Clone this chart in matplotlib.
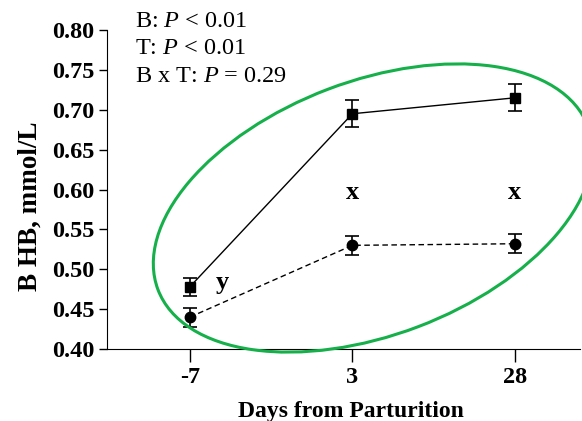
import numpy as np
import matplotlib
matplotlib.use('Agg')
import matplotlib.pyplot as plt
from matplotlib.patches import Ellipse

plt.rcParams['font.family'] = 'Liberation Serif'
plt.rcParams['mathtext.fontset'] = 'custom'
plt.rcParams['mathtext.rm'] = 'Liberation Serif'
plt.rcParams['mathtext.it'] = 'Liberation Serif:italic'

days = ['-7', '3', '28']
sq_mean = [0.478, 0.695, 0.715]
sq_err = [0.011, 0.017, 0.017]
ci_mean = [0.440, 0.530, 0.532]
ci_err = [0.012, 0.012, 0.012]
stats_lines = ['B: $P$ < 0.01', 'T: $P$ < 0.01', 'B x T: $P$ = 0.29']
letters = [('y', 0.2, 0.484), ('x', 1, 0.596), ('x', 2, 0.596)]

fig = plt.figure(figsize=(5.82, 4.21), dpi=100)
ax = fig.add_axes([0.1838, 0.171, 0.8127, 0.7577])

x = np.arange(len(days))
ax.errorbar(x, sq_mean, yerr=sq_err, fmt='s-', color='black', ms=7, lw=1,
            capsize=5, elinewidth=1.2, capthick=1.2)
ax.errorbar(x, ci_mean, yerr=ci_err, fmt='o--', color='black', ms=7.5, lw=1,
            capsize=5, elinewidth=1.2, capthick=1.2, dashes=(4, 2.5))

for s, lx, ly in letters:
    ax.text(lx, ly, s, fontsize=19, fontweight='bold', ha='center', va='center')

ax.set_xlim(-0.51, 2.4)
ax.set_ylim(0.40, 0.80)
ax.set_xticks(x)
ax.set_xticklabels(days)
ax.set_yticks(np.arange(0.40, 0.801, 0.05))
ax.set_yticklabels(['%.2f' % v for v in np.arange(0.40, 0.801, 0.05)])
for lab in ax.get_xticklabels() + ax.get_yticklabels():
    lab.set_fontweight('bold')
    lab.set_fontsize(17.5)
ax.tick_params(axis='y', length=6, width=1, pad=3)
ax.tick_params(axis='x', length=9, width=1, pad=4)
ax.spines['top'].set_visible(False)
ax.spines['right'].set_visible(False)

ax.set_ylabel('B HB, mmol/L', fontsize=19.5, fontweight='bold')
ax.yaxis.set_label_coords(-0.136, 0.448)
ax.set_xlabel('Days from Parturition', fontsize=17, fontweight='bold')
ax.xaxis.set_label_coords(0.516, -0.163)

for i, line in enumerate(stats_lines):
    fig.text(135 / 582, 1 - (27 + i * 27.5) / 421, line, fontsize=17.5,
             ha='left', va='baseline')

# green circle drawn around the data
ell = Ellipse((3.73, 2.13), 4.60, 2.54, angle=20.8, transform=fig.dpi_scale_trans,
              fill=False, edgecolor='#16b04a', lw=2.2, clip_on=False)
fig.add_artist(ell)

fig.savefig('out.png', dpi=100)
